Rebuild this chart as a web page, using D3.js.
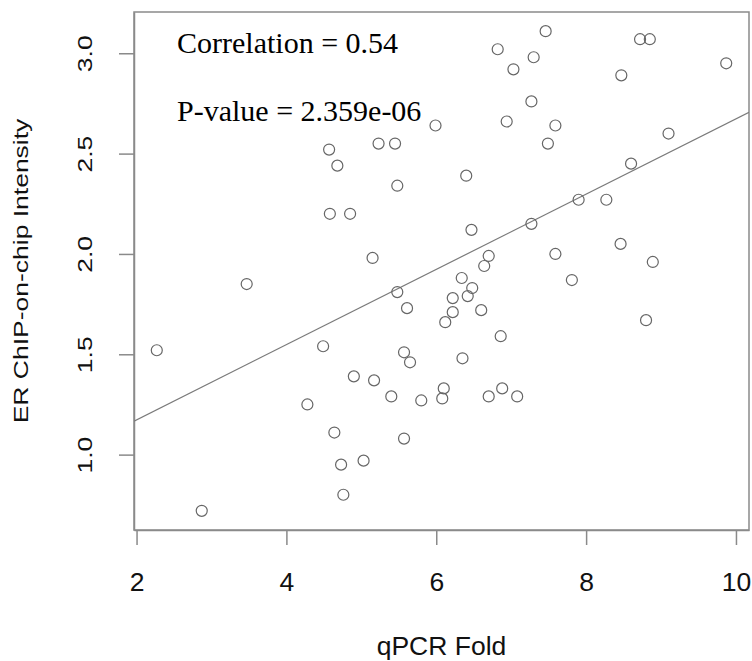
<!doctype html>
<html>

<head>
  <meta charset="utf-8">
  <title>ER ChIP-on-chip vs qPCR</title>
  <style>
    body { margin: 0; background: #fff; }
    svg text { font-family: "Liberation Sans", Arial, sans-serif; }
  </style>
</head>

<body>
  <div id="chart"></div>

  <script src="https://cdn.jsdelivr.net/npm/d3@7"></script>

  <script>
    // values
    var qpcrFold = [4.57, 4.68, 4.58, 4.85, 5.15, 3.47, 5.23, 5.45, 7.46, 6.82,
      7.30, 7.03, 8.72, 8.85, 9.87, 8.47, 7.27, 5.99, 6.94, 7.59,
      7.49, 9.10, 8.60, 6.40, 5.48, 7.90, 8.27, 7.27, 6.47, 8.46,
      7.59, 8.89, 6.70, 6.64, 7.81, 6.34, 6.48, 6.42, 5.48, 5.61,
      6.22, 6.22, 6.60, 6.12, 8.80, 6.86, 2.27, 4.49, 4.90, 5.17,
      4.28, 4.64, 5.03, 4.73, 4.76, 2.87, 5.57, 5.65, 6.35, 5.40,
      5.80, 6.10, 6.08, 6.70, 6.88, 7.08, 5.57];
    var chipIntensity = [2.52, 2.44, 2.20, 2.20, 1.98, 1.85, 2.55, 2.55, 3.11, 3.02,
      2.98, 2.92, 3.07, 3.07, 2.95, 2.89, 2.76, 2.64, 2.66, 2.64,
      2.55, 2.60, 2.45, 2.39, 2.34, 2.27, 2.27, 2.15, 2.12, 2.05,
      2.00, 1.96, 1.99, 1.94, 1.87, 1.88, 1.83, 1.79, 1.81, 1.73,
      1.78, 1.71, 1.72, 1.66, 1.67, 1.59, 1.52, 1.54, 1.39, 1.37,
      1.25, 1.11, 0.97, 0.95, 0.80, 0.72, 1.51, 1.46, 1.48, 1.29,
      1.27, 1.33, 1.28, 1.29, 1.33, 1.29, 1.08];
    var xTicks = [2, 4, 6, 8, 10];
    var yTicks = [1.0, 1.5, 2.0, 2.5, 3.0];
    var fitIntercept = 0.798;
    var fitSlope = 0.1875;
    var statLines = ["Correlation = 0.54", "P-value = 2.359e-06"];

    var W = 752, H = 661;
    var margin = { top: 12, right: 3, bottom: 131, left: 134 };
    var pw = W - margin.left - margin.right;
    var ph = H - margin.top - margin.bottom;

    // R style 4% padding on the data range
    function padded(arr) {
      var e = d3.extent(arr), d = (e[1] - e[0]) * 0.04;
      return [e[0] - d, e[1] + d];
    }

    var x = d3.scaleLinear().domain(padded(qpcrFold)).range([0, pw]);
    var y = d3.scaleLinear().domain(padded(chipIntensity)).range([ph, 0]);

    var svg = d3.select('#chart').append('svg')
      .attr('width', W)
      .attr('height', H);

    var g = svg.append('g')
      .attr('transform', 'translate(' + margin.left + ',' + margin.top + ')');

    g.append('clipPath').attr('id', 'clip')
      .append('rect').attr('width', pw).attr('height', ph);

    // axes
    var xAxis = g.append('g')
      .attr('transform', 'translate(0,' + ph + ')')
      .call(d3.axisBottom(x).tickValues(xTicks).tickFormat(d3.format('d')).tickSize(15).tickSizeOuter(0));
    xAxis.selectAll('text')
      .attr('y', 61)
      .attr('dy', null)
      .style('font-size', '26.5px')
      .attr('fill', '#111');

    var yAxis = g.append('g')
      .call(d3.axisLeft(y).tickValues(yTicks).tickFormat(d3.format('.1f')).tickSize(15).tickSizeOuter(0));
    yAxis.selectAll('text')
      .attr('x', null)
      .attr('dy', null)
      .attr('text-anchor', 'middle')
      .attr('transform', 'translate(-42,0) scale(0.75,1) rotate(-90)')
      .style('font-size', '26.5px')
      .attr('fill', '#111');

    svg.selectAll('.tick line, .domain').attr('stroke', '#8a8a8a').attr('stroke-width', 1.5);

    // box
    g.append('rect')
      .attr('width', pw)
      .attr('height', ph)
      .attr('fill', 'none')
      .attr('stroke', '#8a8a8a')
      .attr('stroke-width', 1.5);

    // fit line
    var xd = x.domain();
    g.append('line')
      .attr('clip-path', 'url(#clip)')
      .attr('x1', x(xd[0])).attr('y1', y(fitIntercept + fitSlope * xd[0]))
      .attr('x2', x(xd[1])).attr('y2', y(fitIntercept + fitSlope * xd[1]))
      .attr('stroke', '#7a7a7a')
      .attr('stroke-width', 1.2);

    // points
    g.selectAll('circle.pt')
      .data(qpcrFold)
      .enter().append('circle')
      .attr('class', 'pt')
      .attr('cx', function(d) { return x(d); })
      .attr('cy', function(d, i) { return y(chipIntensity[i]); })
      .attr('r', 5.5)
      .attr('fill', 'none')
      .attr('stroke', '#666')
      .attr('stroke-width', 1.2);

    // stats text
    g.selectAll('text.stat')
      .data(statLines)
      .enter().append('text')
      .attr('class', 'stat')
      .attr('x', 43)
      .attr('y', function(d, i) { return 41 + i * 68; })
      .style('font-family', '"Liberation Serif", "Times New Roman", serif')
      .style('font-size', '30px')
      .attr('fill', '#000')
      .text(function(d) { return d; });

    // axis titles
    svg.append('text')
      .attr('x', margin.left + pw / 2)
      .attr('y', 655)
      .attr('text-anchor', 'middle')
      .style('font-size', '26.5px')
      .attr('fill', '#111')
      .text('qPCR Fold');

    svg.append('text')
      .attr('text-anchor', 'middle')
      .attr('transform', 'translate(28,' + (margin.top + ph / 2) + ') scale(0.75,1) rotate(-90)')
      .style('font-size', '26.5px')
      .attr('fill', '#111')
      .text('ER ChIP-on-chip Intensity');
  </script>

</body>

</html>
